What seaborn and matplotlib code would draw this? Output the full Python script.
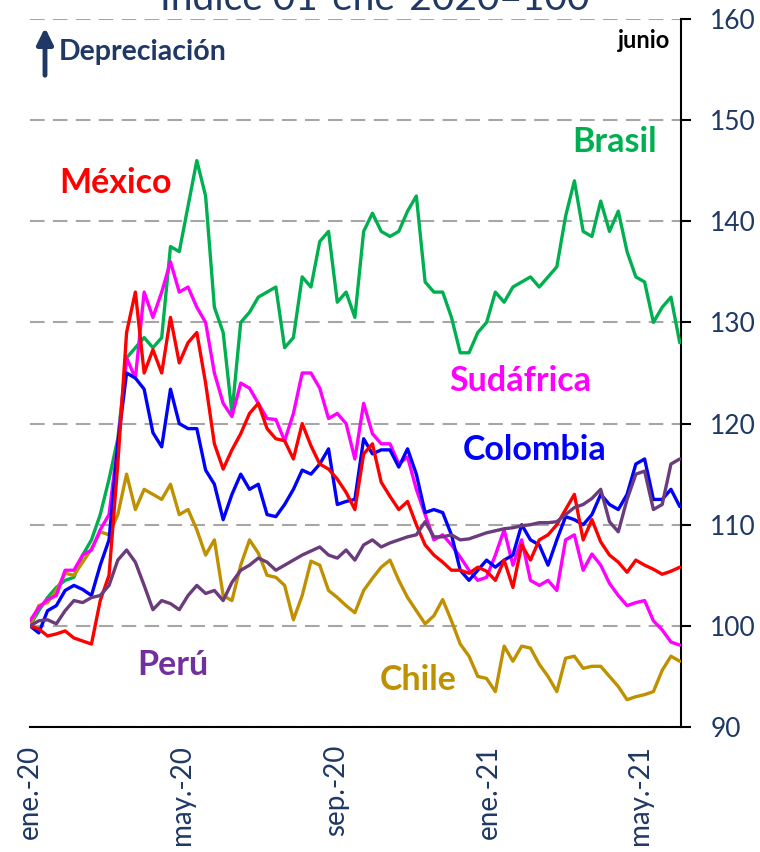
import pandas as pd
import seaborn as sns
import matplotlib.pyplot as plt

# datos semanales desde 01-ene-2020 (indice 01-ene-2020 = 100)
fechas = pd.date_range('2020-01-01', periods=75, freq='7D')

brasil = [100.0, 101.5, 102.8, 103.8, 104.5, 104.8, 107.0, 108.5, 111.0, 114.5,
          118.5, 126.5, 127.5, 128.5, 127.5, 128.5, 137.5, 137.0, 141.5, 146.0,
          142.5, 131.5, 129.0, 121.0, 130.0, 131.0, 132.5, 133.0, 133.5, 127.5,
          128.5, 134.5, 133.5, 138.0, 139.0, 132.0, 133.0, 130.5, 139.0, 140.8,
          139.0, 138.5, 139.0, 141.0, 142.5, 134.0, 133.0, 133.0, 130.5, 127.0,
          127.0, 129.0, 130.0, 133.0, 132.0, 133.5, 134.0, 134.5, 133.5, 134.5,
          135.5, 140.5, 144.0, 139.0, 138.5, 142.0, 139.0, 141.0, 137.0, 134.5,
          134.0, 130.0, 131.5, 132.5, 128.0]

mexico = [100.0, 99.7, 99.0, 99.2, 99.5, 98.8, 98.5, 98.2, 102.5, 105.0,
          116.0, 129.0, 133.0, 125.0, 127.3, 125.0, 130.5, 126.0, 128.0, 129.0,
          124.0, 118.0, 115.5, 117.4, 119.0, 121.0, 122.0, 119.5, 118.5, 118.3,
          116.5, 120.0, 117.8, 116.0, 115.5, 114.5, 113.2, 111.5, 117.0, 118.0,
          114.2, 112.8, 111.5, 112.3, 110.0, 108.0, 107.0, 106.3, 105.5, 105.5,
          105.2, 105.8, 105.4, 104.5, 106.5, 103.8, 108.0, 106.5, 108.5, 109.0,
          110.0, 111.5, 113.0, 108.5, 110.5, 108.3, 107.0, 106.3, 105.3, 106.5,
          106.0, 105.6, 105.1, 105.4, 105.8]

sudafrica = [100.5, 101.8, 102.6, 103.0, 105.5, 105.5, 107.0, 107.5, 109.5, 111.0,
             118.0, 126.5, 124.5, 133.0, 130.5, 133.0, 136.0, 133.0, 133.5, 131.5,
             130.0, 125.0, 122.0, 120.7, 124.0, 123.5, 122.0, 120.5, 120.4, 118.3,
             121.0, 125.0, 125.0, 123.5, 120.5, 121.0, 120.0, 116.5, 122.0, 119.0,
             118.0, 118.0, 116.0, 116.7, 113.5, 111.0, 108.5, 109.0, 108.0, 106.8,
             105.5, 104.5, 104.8, 107.0, 109.5, 106.0, 108.5, 104.5, 104.0, 104.5,
             103.5, 108.5, 109.0, 105.5, 107.1, 106.0, 104.2, 103.0, 102.0, 102.3,
             102.5, 100.5, 99.6, 98.4, 98.1]

colombia = [100.0, 99.3, 101.5, 102.0, 103.5, 104.0, 103.6, 103.0, 106.0, 108.5,
            118.0, 125.0, 124.5, 123.4, 119.1, 117.7, 123.4, 120.0, 119.5, 119.5,
            115.4, 114.0, 110.5, 113.0, 115.0, 113.5, 114.0, 111.0, 110.8, 112.0,
            113.5, 115.4, 115.0, 116.0, 117.5, 112.0, 112.3, 112.5, 118.5, 117.0,
            117.4, 117.4, 115.7, 117.5, 115.0, 111.2, 111.5, 111.2, 109.0, 105.5,
            104.5, 105.5, 106.5, 105.8, 106.5, 107.0, 110.0, 108.5, 108.0, 106.0,
            108.5, 110.8, 110.5, 110.0, 111.0, 113.0, 112.0, 111.5, 113.0, 116.0,
            116.5, 112.5, 112.5, 113.5, 111.8]

peru = [100.0, 100.5, 100.6, 100.2, 101.5, 102.5, 102.3, 102.8, 103.0, 104.0,
        106.5, 107.5, 106.3, 104.0, 101.6, 102.5, 102.2, 101.6, 103.0, 104.0,
        103.2, 103.5, 102.5, 104.3, 105.5, 106.0, 106.7, 106.3, 105.5, 106.0,
        106.5, 107.0, 107.4, 107.8, 107.0, 106.7, 107.5, 106.5, 108.0, 108.5,
        107.8, 108.2, 108.5, 108.8, 109.0, 110.3, 108.8, 108.8, 109.0, 108.5,
        108.6, 108.9, 109.2, 109.4, 109.6, 109.7, 109.9, 110.0, 110.2, 110.2,
        110.3, 111.0, 111.7, 112.0, 112.6, 113.5, 110.3, 109.3, 112.5, 115.0,
        115.3, 111.5, 112.0, 116.0, 116.5]

chile = [100.0, 102.0, 102.3, 103.5, 105.2, 105.0, 106.3, 107.6, 109.3, 109.0,
         111.0, 115.0, 111.5, 113.5, 113.0, 112.5, 114.0, 111.0, 111.5, 109.5,
         107.0, 108.5, 103.0, 102.5, 106.0, 108.5, 107.2, 105.0, 104.8, 104.0,
         100.6, 103.0, 106.4, 106.0, 103.5, 102.8, 102.0, 101.3, 103.5, 104.7,
         105.8, 106.5, 104.5, 102.8, 101.5, 100.2, 101.0, 102.6, 100.5, 98.2,
         97.0, 95.0, 94.8, 93.5, 98.0, 96.5, 98.0, 97.8, 96.2, 95.0,
         93.5, 96.8, 97.0, 95.8, 96.0, 96.0, 95.0, 94.0, 92.7, 93.0,
         93.2, 93.5, 95.6, 97.0, 96.5]

paises = ['Brasil', 'Chile', 'Sudáfrica', 'Colombia', 'México', 'Perú']
series = [brasil, chile, sudafrica, colombia, mexico, peru]
colores = {'Brasil': '#00B050', 'México': '#FF0000', 'Sudáfrica': '#FF00FF',
           'Colombia': '#0000FF', 'Perú': '#6B3C7B', 'Chile': '#BF9000'}

tick_fechas = pd.to_datetime(['2020-01-01', '2020-05-01', '2020-09-01',
                              '2021-01-01', '2021-05-01'])
tick_etiquetas = ['ene.-20', 'may.-20', 'sep.-20', 'ene.-21', 'may.-21']

df = pd.concat([pd.DataFrame({'fecha': fechas, 'valor': v, 'pais': p})
                for p, v in zip(paises, series)], ignore_index=True)

sns.set_style('white')
plt.rcParams['font.family'] = ['Lato', 'DejaVu Sans']
navy = '#1F3864'

fig = plt.figure(figsize=(7.6, 8.52), dpi=100)
ax = fig.add_axes([30 / 760, 125 / 852, 651 / 760, 708 / 852])

sns.lineplot(data=df, x='fecha', y='valor', hue='pais', hue_order=paises,
             palette=colores, linewidth=2.4, legend=False, ax=ax, zorder=3)

ax.set_ylim(90, 160)
ax.set_xlim(pd.Timestamp('2020-01-01'), pd.Timestamp('2021-06-03'))
ax.set_yticks(range(90, 161, 10))
ax.set_xticks(tick_fechas)
ax.set_xticklabels(tick_etiquetas, rotation=90)
ax.set_xlabel('')
ax.set_ylabel('')

ax.yaxis.tick_right()
for s in ['left', 'top']:
    ax.spines[s].set_visible(False)
for s in ['right', 'bottom']:
    ax.spines[s].set_color('black')
    ax.spines[s].set_linewidth(1.5)

ax.tick_params(axis='y', direction='out', length=7, width=1.5, color='black',
               labelsize=19, labelcolor=navy, pad=14)
ax.tick_params(axis='x', direction='out', length=7, width=1.5, color='black',
               labelsize=20, labelcolor=navy, pad=6)

ax.grid(axis='y', color='#A6A6A6', linestyle=(0, (7, 4)), linewidth=1.5)
ax.grid(axis='x', visible=False)

# etiquetas de las series
H = 852
etiquetas = [('México', 115, 183, '#FF0000'), ('Brasil', 615, 142, '#00B050'),
             ('Sudáfrica', 520, 381, '#FF00FF'), ('Colombia', 535, 450, '#0000FF'),
             ('Perú', 173, 665, '#7030A0'), ('Chile', 418, 680, '#BF9000')]
for txt, x, y, c in etiquetas:
    fig.text(x / 760, 1 - y / H, txt, color=c, fontsize=24.5, fontweight='bold',
             ha='center', va='center')

fig.text(59 / 760, 1 - 52 / H, 'Depreciación', color=navy, fontsize=20.5,
         fontweight='bold', ha='left', va='center')
ax.annotate('', xy=(45, H - 25), xytext=(45, H - 78), xycoords='figure pixels',
            arrowprops=dict(arrowstyle='-|>', color=navy, lw=3.5, mutation_scale=24))
fig.text(670 / 760, 1 - 40 / H, 'junio', color='black', fontsize=17,
         fontweight='bold', ha='right', va='center')
fig.text(375 / 760, 1 - 10 / H, 'Índice 01-ene-2020=100', color=navy, fontsize=28,
         ha='center', va='baseline')

fig.savefig('out.png', dpi=100)
